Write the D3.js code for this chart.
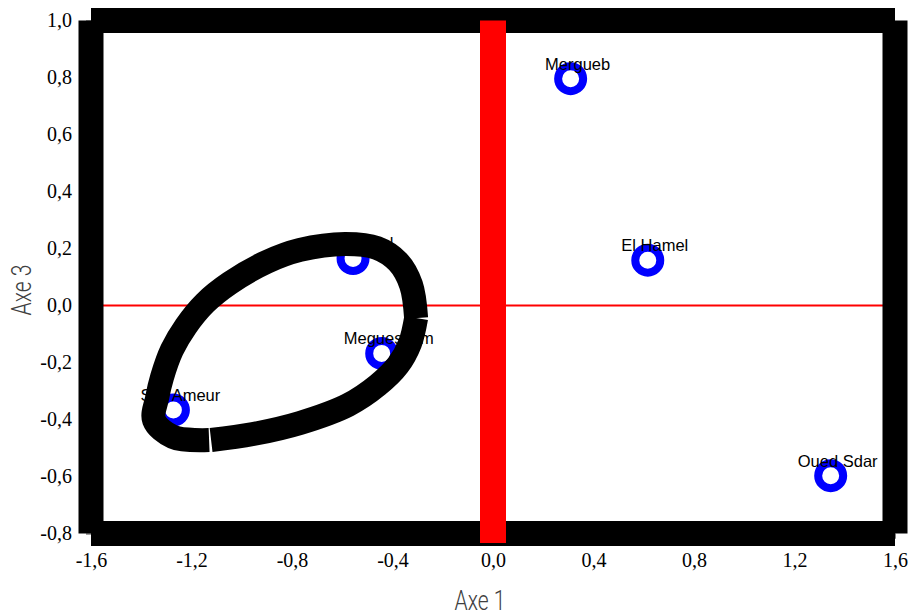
<!DOCTYPE html>
<html><head><meta charset="utf-8">
<script src="https://cdn.jsdelivr.net/npm/d3@7/dist/d3.min.js"></script>
<style>body{margin:0;background:#fff}svg{display:block}</style>
</head><body><svg id="c" width="916" height="616"></svg>
<script>
// ---- data ----
const names = ["Mergueb", "El Hamel", "Oued Sdar", "Medjedel", "Meguessem", "Sidi Ameur"];
const axe1  = [0.309, 0.616, 1.344, -0.557, -0.443, -1.272];
const axe3  = [0.796, 0.159, -0.597, 0.165, -0.168, -0.367];

const xTickValues = [-1.6, -1.2, -0.8, -0.4, 0.0, 0.4, 0.8, 1.2, 1.6];
const xTickLabels = ["-1,6", "-1,2", "-0,8", "-0,4", "0,0", "0,4", "0,8", "1,2", "1,6"];
const yTickValues = [-0.8, -0.6, -0.4, -0.2, 0.0, 0.2, 0.4, 0.6, 0.8, 1.0];
const yTickLabels = ["-0,8", "-0,6", "-0,4", "-0,2", "0,0", "0,2", "0,4", "0,6", "0,8", "1,0"];

// hand-drawn grouping loop (two strokes), in axis units
const loopA_x = [-1.130, -1.274, -1.349, -1.337, -1.317, -1.278, -1.222, -1.146, -1.047, -0.900, -0.768, -0.589, -0.462, -0.378, -0.326, -0.306];
const loopA_y = [-0.472, -0.461, -0.402, -0.325, -0.251, -0.156, -0.072, 0.009, 0.079, 0.153, 0.195, 0.216, 0.202, 0.153, 0.072, -0.044];
const loopB_x = [-0.306, -0.330, -0.378, -0.458, -0.577, -0.768, -0.955, -1.122];
const loopB_y = [-0.044, -0.132, -0.209, -0.279, -0.349, -0.412, -0.451, -0.472];

const redVertical = {x: 0, y0: 1.0, y1: -0.833};

// ---- chart ----
const svg = d3.select("#c");
const x = d3.scaleLinear().domain([-1.6, 1.6]).range([91, 895]);
const y = d3.scaleLinear().domain([-0.8, 1.0]).range([533.5, 20.5]);

// thin red horizontal line at 0
svg.append("line")
  .attr("x1", x(-1.6)).attr("x2", x(1.6))
  .attr("y1", y(0)).attr("y2", y(0))
  .attr("stroke", "#ff0000").attr("stroke-width", 2);

// axes (ticks + labels)
const xAxis = svg.append("g").attr("transform", `translate(0,${y(-0.8)})`)
  .call(d3.axisBottom(x).tickValues(xTickValues).tickFormat((d, i) => xTickLabels[i]).tickSize(5).tickPadding(14));
const yAxis = svg.append("g").attr("transform", `translate(${x(-1.6)},0)`)
  .call(d3.axisLeft(y).tickValues(yTickValues).tickFormat((d, i) => yTickLabels[i]).tickSize(5).tickPadding(14));
[xAxis, yAxis].forEach(g => {
  g.selectAll("path.domain").attr("stroke", "#808080");
  g.selectAll(".tick line").attr("stroke", "#808080");
  g.selectAll("text").attr("font-family", "'Liberation Serif', 'Times New Roman', serif")
    .attr("font-size", 20).attr("fill", "#000");
});

// thick black frame (four butt-capped strokes)
const frame = [
  [[-1.6, 1.0], [1.6, 1.0]],
  [[1.6, 1.0], [1.6, -0.8]],
  [[-1.6, -0.8], [1.6, -0.8]],
  [[-1.6, 1.0], [-1.6, -0.8]]
];
svg.append("g").selectAll("line").data(frame).join("line")
  .attr("x1", d => x(d[0][0])).attr("y1", d => y(d[0][1]))
  .attr("x2", d => x(d[1][0])).attr("y2", d => y(d[1][1]))
  .attr("stroke", "#000").attr("stroke-width", 25).attr("stroke-linecap", "butt");

// thick red vertical line at 0
svg.append("line")
  .attr("x1", x(redVertical.x)).attr("x2", x(redVertical.x))
  .attr("y1", y(redVertical.y0)).attr("y2", y(redVertical.y1))
  .attr("stroke", "#ff0000").attr("stroke-width", 26).attr("stroke-linecap", "butt");

// points
const pts = names.map((n, i) => ({name: n, a1: axe1[i], a3: axe3[i]}));
svg.append("g").selectAll("circle").data(pts).join("circle")
  .attr("cx", d => x(d.a1)).attr("cy", d => y(d.a3))
  .attr("r", 12.5).attr("fill", "#fff").attr("stroke", "#0000ff").attr("stroke-width", 8);

svg.append("g").selectAll("text").data(pts).join("text")
  .attr("x", d => x(d.a1) + 7).attr("y", d => y(d.a3) - 9)
  .attr("text-anchor", "middle")
  .attr("font-family", "'Liberation Sans', Arial, sans-serif").attr("font-size", 16.5)
  .attr("fill", "#000")
  .text(d => d.name);

// grouping loop
const line = d3.line().x(d => x(d[0])).y(d => y(d[1])).curve(d3.curveCatmullRom.alpha(0.5));
const partA = loopA_x.map((v, i) => [v, loopA_y[i]]);
const partB = loopB_x.map((v, i) => [v, loopB_y[i]]);
svg.append("g").selectAll("path").data([partA, partB]).join("path")
  .attr("d", line).attr("fill", "none").attr("stroke", "#000")
  .attr("stroke-width", 24).attr("stroke-linecap", "butt").attr("stroke-linejoin", "round");

// axis titles
svg.append("text")
  .attr("transform", `translate(480,610) scale(0.78,1)`)
  .attr("text-anchor", "middle")
  .attr("font-family", "Roboto, 'Liberation Sans', sans-serif").attr("font-weight", 300)
  .attr("font-size", 27).attr("fill", "#404040")
  .text("Axe 1");
svg.append("text")
  .attr("transform", `translate(31,290) rotate(-90) scale(0.78,1)`)
  .attr("text-anchor", "middle")
  .attr("font-family", "Roboto, 'Liberation Sans', sans-serif").attr("font-weight", 300)
  .attr("font-size", 27).attr("fill", "#404040")
  .text("Axe 3");
</script></body></html>
